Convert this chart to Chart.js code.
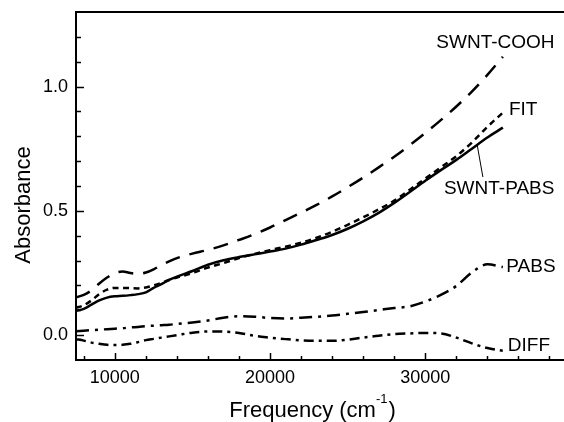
<!DOCTYPE html>
<html>
<head>
<title>Absorbance spectra</title>
<script src="https://cdn.jsdelivr.net/npm/chart.js@4.4.1/dist/chart.umd.min.js"></script>
<style>
    body { margin: 0; overflow: hidden; background: #fff; }
    #wrap { width: 570px; height: 422px; }
</style>
</head>
<body>
<div id="wrap"><canvas id="absChart" width="570" height="422"></canvas></div>
<script>
// frequency samples (cm-1), shared by every curve
const freq = [7500, 8000, 8500, 9000, 9500, 10000, 10500, 11000, 11500, 12000, 12500, 13000, 13500, 14000,
              15000, 16000, 17000, 18000, 19000, 20000, 21000, 22000, 23000, 24000, 25000,
              26000, 27000, 28000, 29000, 30000, 31000, 32000, 33000, 34000, 35000];

const swntCooh = [0.152, 0.162, 0.180, 0.208, 0.232, 0.250, 0.256, 0.250, 0.247, 0.252, 0.265, 0.282, 0.297, 0.310,
                  0.328, 0.343, 0.361, 0.383, 0.406, 0.433, 0.463, 0.493, 0.524, 0.558, 0.595,
                  0.634, 0.675, 0.718, 0.764, 0.813, 0.865, 0.920, 0.980, 1.047, 1.120];

const fit = [0.110, 0.120, 0.140, 0.165, 0.183, 0.190, 0.190, 0.189, 0.188, 0.192, 0.200, 0.210, 0.222, 0.232,
             0.250, 0.272, 0.290, 0.310, 0.327, 0.342, 0.356, 0.372, 0.392, 0.416, 0.444,
             0.474, 0.506, 0.541, 0.585, 0.630, 0.675, 0.720, 0.775, 0.838, 0.895];

const swntPabs = [0.098, 0.106, 0.123, 0.140, 0.151, 0.156, 0.158, 0.161, 0.165, 0.172, 0.190, 0.205, 0.222, 0.235,
                  0.258, 0.283, 0.301, 0.314, 0.325, 0.336, 0.348, 0.364, 0.383, 0.403, 0.428,
                  0.458, 0.492, 0.532, 0.576, 0.621, 0.664, 0.705, 0.750, 0.795, 0.835];

const pabs = [0.016, 0.018, 0.020, 0.022, 0.024, 0.026, 0.028, 0.031, 0.033, 0.036, 0.038, 0.040, 0.042, 0.045,
              0.051, 0.059, 0.070, 0.076, 0.074, 0.069, 0.067, 0.070, 0.074, 0.079, 0.086,
              0.093, 0.101, 0.109, 0.116, 0.135, 0.162, 0.198, 0.252, 0.285, 0.274];

const diff = [-0.016, -0.022, -0.030, -0.035, -0.039, -0.040, -0.039, -0.035, -0.028, -0.020, -0.015, -0.010, -0.005, 0.000,
              0.010, 0.015, 0.014, 0.009, -0.003, -0.010, -0.016, -0.021, -0.023, -0.023, -0.018,
              -0.010, -0.002, 0.004, 0.007, 0.009, 0.007, -0.010, -0.033, -0.052, -0.063];

const xTicks = [10000, 20000, 30000];
const yTicks = [0.0, 0.5, 1.0];

// curve names written next to the curves (data coordinates)
const curveLabels = [
    { text: 'SWNT-COOH', x: 30710, y: 1.178 },
    { text: 'FIT',       x: 35390, y: 0.906 },
    { text: 'SWNT-PABS', x: 31200, y: 0.589 },
    { text: 'PABS',      x: 35220, y: 0.274 },
    { text: 'DIFF',      x: 35320, y: -0.043 }
];
const pointer = [{ x: 33350, y: 0.763 }, { x: 33710, y: 0.636 }];

const FONT = '"Liberation Sans", Arial, Helvetica, sans-serif';

function series(vals) {
    return freq.map((f, i) => ({ x: f, y: vals[i] }));
}

function curve(label, vals, dash, width) {
    return {
        label: label,
        data: series(vals),
        borderColor: '#000',
        borderWidth: width,
        borderDash: dash,
        pointRadius: 0,
        fill: false,
        cubicInterpolationMode: 'monotone'
    };
}

const decor = {
    id: 'decor',
    afterDraw(chart) {
        const ctx = chart.ctx;
        const a = chart.chartArea;
        const x = chart.scales.x, y = chart.scales.y;
        ctx.save();
        ctx.strokeStyle = '#000';
        ctx.fillStyle = '#000';

        // frame
        ctx.lineWidth = 2;
        ctx.strokeRect(a.left, a.top, a.right - a.left, a.bottom - a.top);

        // inward tick marks
        ctx.lineWidth = 1.5;
        for (let v = 8000; v <= 38000; v += 2000) {
            const px = Math.round(x.getPixelForValue(v)) + 0.5;
            const len = v % 10000 === 0 ? 7 : 4;
            ctx.beginPath(); ctx.moveTo(px, a.bottom); ctx.lineTo(px, a.bottom - len); ctx.stroke();
        }
        for (let i = 0; i <= 12; i++) {
            const py = Math.round(y.getPixelForValue(i / 10)) + 0.5;
            const len = i % 5 === 0 ? 8 : 5;
            ctx.beginPath(); ctx.moveTo(a.left, py); ctx.lineTo(a.left + len, py); ctx.stroke();
        }

        // curve names
        ctx.font = '19px ' + FONT;
        ctx.textAlign = 'left';
        ctx.textBaseline = 'middle';
        curveLabels.forEach(l => {
            ctx.fillText(l.text, x.getPixelForValue(l.x), y.getPixelForValue(l.y));
        });
        ctx.lineWidth = 1;
        ctx.beginPath();
        ctx.moveTo(x.getPixelForValue(pointer[0].x), y.getPixelForValue(pointer[0].y));
        ctx.lineTo(x.getPixelForValue(pointer[1].x), y.getPixelForValue(pointer[1].y));
        ctx.stroke();

        // axis titles
        ctx.font = '22px ' + FONT;
        ctx.save();
        ctx.translate(24, 205);
        ctx.rotate(-Math.PI / 2);
        ctx.textAlign = 'center';
        ctx.fillText('Absorbance', 0, 0);
        ctx.restore();

        ctx.textBaseline = 'alphabetic';
        const main = 'Frequency (cm';
        const wMain = ctx.measureText(main).width;
        const wClose = ctx.measureText(')').width;
        ctx.font = '13px ' + FONT;
        const wSup = ctx.measureText('-1').width;
        let sx = 312.5 - (wMain + wSup + 1 + wClose) / 2;
        ctx.font = '22px ' + FONT;
        ctx.fillText(main, sx, 416.5);
        sx += wMain;
        ctx.font = '13px ' + FONT;
        ctx.fillText('-1', sx, 402.5);
        sx += wSup + 1;
        ctx.font = '22px ' + FONT;
        ctx.fillText(')', sx, 416.5);
        ctx.restore();
    }
};

const tickFont = { family: FONT, size: 18 };

new Chart(document.getElementById('absChart'), {
    type: 'line',
    data: {
        datasets: [
            curve('SWNT-COOH', swntCooh, [15, 10], 2.5),
            curve('FIT', fit, [6, 4.5], 2.5),
            curve('SWNT-PABS', swntPabs, [], 2.5),
            curve('PABS', pabs, [13, 6, 3, 6], 2.5),
            curve('DIFF', diff, [10, 5, 3, 5], 2.5)
        ]
    },
    options: {
        responsive: false,
        animation: false,
        layout: { padding: { top: 12, right: 5, left: 0, bottom: 0 } },
        plugins: {
            legend: { display: false },
            tooltip: { enabled: false }
        },
        scales: {
            x: {
                type: 'linear',
                min: 7500,
                max: 39000,
                grid: { display: false, drawTicks: false },
                border: { display: false },
                afterBuildTicks: s => { s.ticks = xTicks.map(v => ({ value: v })); },
                afterFit: s => { s.height = 62; s.paddingLeft = 0; s.paddingRight = 0; },
                ticks: {
                    padding: 7,
                    color: '#000',
                    font: tickFont,
                    maxRotation: 0,
                    autoSkip: false,
                    callback: v => String(v)
                }
            },
            y: {
                min: -0.1,
                max: 1.3,
                grid: { display: false, drawTicks: false },
                border: { display: false },
                afterBuildTicks: s => { s.ticks = yTicks.map(v => ({ value: v })); },
                afterFit: s => { s.width = 76; s.paddingTop = 0; s.paddingBottom = 0; },
                ticks: {
                    padding: 8,
                    color: '#000',
                    font: tickFont,
                    autoSkip: false,
                    callback: v => v.toFixed(1)
                }
            }
        }
    },
    plugins: [decor]
});
</script>
</body>
</html>
